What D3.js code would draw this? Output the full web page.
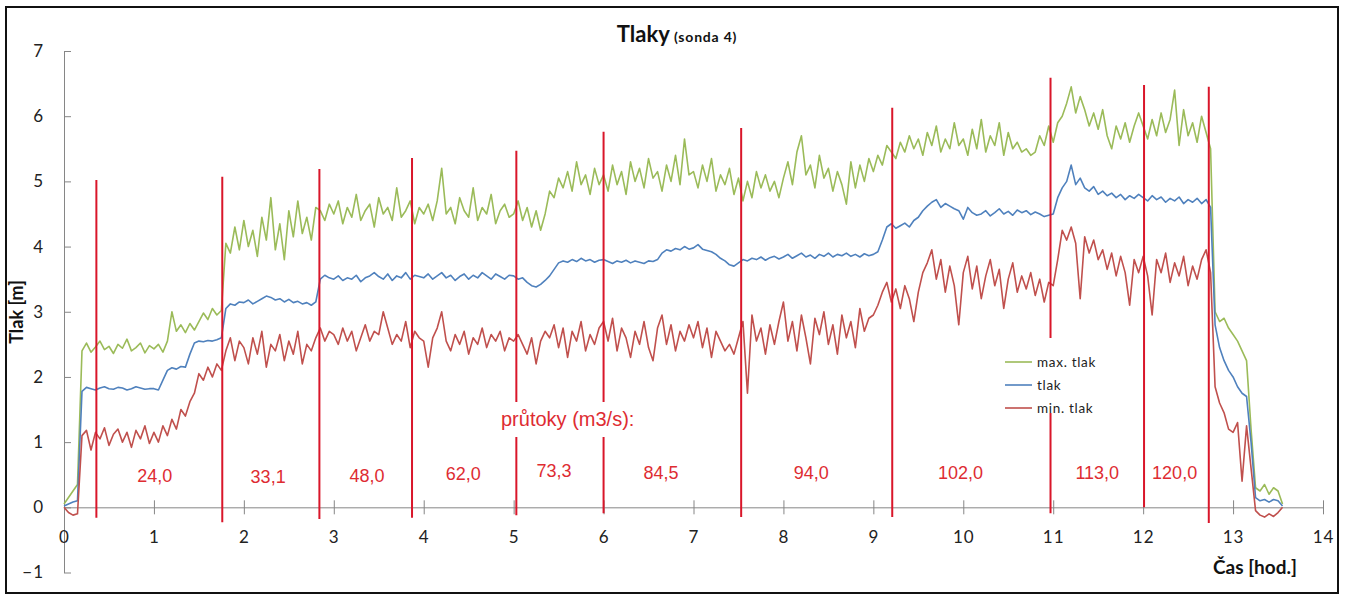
<html>
<head>
<meta charset="utf-8">
<script src="https://d3js.org/d3.v7.min.js"></script>
<style>
  body { margin: 0; background: #fff; }
  .axis path, .axis line { stroke: #868686; }
  .axis text { fill: #222; font-family: Lato, sans-serif; font-size: 17px; letter-spacing: 1px; }
</style>
</head>
<body>
<div id="chart"></div>
<script>
// time step of the readings [hod.]
var step = 0.05;

// max. tlak (green), one value every 0.05 h
var maxTlak = [
  0.05, 0.15, 0.25, 0.35, 2.40, 2.52, 2.38, 2.46, 2.55, 2.42, 2.47, 2.36, 2.50, 2.44, 2.58, 2.40, 2.45, 2.52, 2.37, 2.48,
  2.43, 2.50, 2.38, 2.55, 3.00, 2.70, 2.80, 2.68, 2.82, 2.72, 2.85, 2.98, 2.88, 3.05, 2.95, 3.02, 4.05, 3.90, 4.30, 3.95,
  4.40, 4.00, 4.25, 3.85, 4.45, 4.10, 4.75, 3.95, 4.35, 3.80, 4.55, 4.15, 4.70, 4.20, 4.45, 4.10, 4.60, 4.55, 4.40, 4.65,
  4.50, 4.70, 4.35, 4.60, 4.45, 4.80, 4.40, 4.55, 4.65, 4.30, 4.75, 4.50, 4.60, 4.40, 4.90, 4.45, 4.55, 4.70, 4.35, 4.60,
  4.50, 4.65, 4.40, 4.70, 5.20, 4.50, 4.60, 4.35, 4.75, 4.55, 4.45, 4.90, 4.40, 4.60, 4.50, 4.80, 4.35, 4.55, 4.65, 4.45,
  4.50, 4.70, 4.40, 4.60, 4.30, 4.55, 4.25, 4.50, 4.85, 4.75, 5.05, 4.90, 5.15, 4.85, 5.30, 4.95, 5.10, 4.80, 5.20, 4.95,
  5.10, 4.85, 5.25, 4.95, 5.15, 4.80, 5.30, 5.00, 5.20, 4.90, 5.35, 5.05, 5.15, 4.85, 5.25, 5.00, 5.40, 4.95, 5.65, 5.10,
  5.15, 4.90, 5.25, 5.00, 5.35, 4.85, 5.10, 4.95, 5.20, 4.80, 5.05, 4.70, 5.00, 4.75, 5.15, 4.90, 5.10, 4.85, 5.00, 4.75,
  5.05, 5.30, 4.95, 5.45, 5.70, 5.10, 5.25, 4.90, 5.40, 5.05, 5.20, 4.85, 5.15, 4.95, 4.65, 5.30, 4.90, 5.25, 5.00, 5.35,
  5.15, 5.40, 5.25, 5.55, 5.45, 5.35, 5.60, 5.45, 5.70, 5.50, 5.65, 5.40, 5.75, 5.55, 5.85, 5.45, 5.65, 5.50, 5.90, 5.55,
  5.65, 5.40, 5.80, 5.50, 5.95, 5.45, 5.70, 5.55, 5.90, 5.40, 5.75, 5.50, 5.60, 5.45, 5.50, 5.40, 5.45, 5.70, 5.55, 5.85,
  5.60, 5.90, 6.00, 6.20, 6.45, 6.05, 6.30, 6.10, 5.85, 6.05, 5.80, 6.10, 5.70, 5.50, 5.85, 5.65, 5.90, 5.60, 5.85, 6.05,
  5.85, 5.65, 5.95, 5.70, 6.05, 5.75, 5.95, 6.40, 5.55, 6.10, 5.70, 5.90, 5.60, 6.00, 5.75, 5.50, 3.00, 2.85, 2.90, 2.75,
  2.65, 2.55, 2.40, 2.25, 1.20, 0.30, 0.25, 0.35, 0.20, 0.30, 0.25, 0.05
];

// tlak (blue)
var tlak = [
  0.02, 0.05, 0.08, 0.10, 1.78, 1.84, 1.82, 1.80, 1.83, 1.85, 1.82, 1.81, 1.84, 1.83, 1.80, 1.82, 1.85, 1.83, 1.81, 1.82,
  1.82, 1.80, 1.95, 2.10, 2.14, 2.12, 2.16, 2.15, 2.35, 2.52, 2.55, 2.54, 2.56, 2.55, 2.57, 2.60, 3.05, 3.12, 3.10, 3.15,
  3.14, 3.18, 3.12, 3.16, 3.20, 3.24, 3.22, 3.18, 3.20, 3.15, 3.19, 3.14, 3.16, 3.12, 3.14, 3.10, 3.15, 3.50, 3.56, 3.52,
  3.50, 3.55, 3.48, 3.52, 3.50, 3.56, 3.46, 3.52, 3.55, 3.60, 3.54, 3.50, 3.58, 3.48, 3.55, 3.52, 3.60, 3.50, 3.56, 3.54,
  3.52, 3.58, 3.50, 3.55, 3.60, 3.52, 3.56, 3.48, 3.54, 3.58, 3.50, 3.56, 3.52, 3.60, 3.55, 3.50, 3.58, 3.54, 3.50, 3.56,
  3.55, 3.50, 3.52, 3.45, 3.40, 3.38, 3.42, 3.48, 3.55, 3.65, 3.75, 3.78, 3.76, 3.80, 3.77, 3.82, 3.78, 3.80, 3.76, 3.79,
  3.80, 3.77, 3.74, 3.78, 3.76, 3.79, 3.75, 3.78, 3.76, 3.74, 3.78, 3.77, 3.80, 3.90, 3.95, 3.93, 3.97, 3.95, 4.00, 3.96,
  3.98, 4.03, 3.96, 3.94, 3.92, 3.88, 3.82, 3.78, 3.72, 3.70, 3.75, 3.80, 3.78, 3.82, 3.80, 3.84, 3.79, 3.83, 3.85, 3.81,
  3.84, 3.88, 3.82, 3.86, 3.90, 3.84, 3.87, 3.82, 3.88, 3.85, 3.90, 3.84, 3.88, 3.86, 3.90, 3.85, 3.88, 3.84, 3.89, 3.86,
  3.88, 3.92, 4.10, 4.30, 4.35, 4.28, 4.32, 4.36, 4.30, 4.40, 4.45, 4.55, 4.62, 4.68, 4.72, 4.60, 4.66, 4.62, 4.58, 4.55,
  4.42, 4.60, 4.52, 4.48, 4.50, 4.55, 4.47, 4.52, 4.58, 4.50, 4.54, 4.48, 4.56, 4.52, 4.55, 4.49, 4.53, 4.50, 4.46, 4.48,
  4.50, 4.75, 4.90, 5.00, 5.25, 4.95, 5.05, 4.90, 4.85, 4.92, 4.80, 4.85, 4.78, 4.82, 4.75, 4.80, 4.72, 4.78, 4.74, 4.80,
  4.75, 4.70, 4.78, 4.72, 4.76, 4.68, 4.74, 4.70, 4.76, 4.66, 4.72, 4.68, 4.74, 4.66, 4.72, 4.60, 2.80, 2.45, 2.25, 2.10,
  2.00, 1.85, 1.75, 1.70, 1.00, 0.15, 0.10, 0.12, 0.08, 0.12, 0.10, 0.02
];

// min. tlak (red)
var minTlak = [
  0.00, -0.08, -0.12, -0.10, 1.10, 1.18, 0.88, 1.15, 1.05, 1.22, 0.95, 1.12, 1.20, 1.00, 1.15, 0.92, 1.18, 1.05, 1.25, 0.98,
  1.15, 1.00, 1.25, 1.10, 1.35, 1.20, 1.50, 1.40, 1.62, 1.75, 2.05, 1.95, 2.15, 2.00, 2.20, 2.10, 2.40, 2.60, 2.25, 2.55,
  2.45, 2.20, 2.60, 2.35, 2.70, 2.15, 2.50, 2.40, 2.65, 2.25, 2.55, 2.35, 2.70, 2.20, 2.50, 2.40, 2.60, 2.75, 2.55, 2.70,
  2.65, 2.50, 2.75, 2.55, 2.70, 2.40, 2.60, 2.80, 2.55, 2.70, 2.65, 3.00, 2.75, 2.50, 2.65, 2.55, 2.85, 2.45, 2.70, 2.60,
  2.55, 2.15, 2.60, 2.75, 3.00, 2.55, 2.40, 2.65, 2.50, 2.70, 2.35, 2.60, 2.50, 2.75, 2.45, 2.65, 2.55, 2.70, 2.40, 2.60,
  2.55, 2.65, 2.50, 2.35, 2.60, 2.20, 2.55, 2.70, 2.60, 2.80, 2.45, 2.75, 2.30, 2.70, 2.55, 2.85, 2.40, 2.65, 2.50, 2.75,
  2.85, 2.55, 2.90, 2.40, 2.75, 2.60, 2.30, 2.70, 2.50, 2.85, 2.45, 2.25, 2.75, 2.95, 2.50, 2.80, 2.40, 2.70, 2.55, 2.80,
  2.60, 2.85, 2.45, 2.75, 2.30, 2.70, 2.55, 2.40, 2.50, 2.35, 2.60, 2.85, 1.75, 2.95, 2.55, 2.75, 2.35, 2.80, 2.50, 2.85,
  3.15, 2.55, 2.85, 2.40, 2.95, 2.60, 2.20, 2.90, 2.65, 3.00, 2.50, 2.80, 2.35, 2.95, 2.60, 2.85, 2.45, 3.05, 2.70, 2.90,
  2.95, 3.10, 3.30, 3.45, 3.15, 3.35, 3.05, 3.40, 3.20, 2.85, 3.30, 3.60, 3.75, 3.95, 3.50, 3.80, 3.30, 3.70, 3.40, 2.80,
  3.60, 3.85, 3.35, 3.70, 3.20, 3.55, 3.80, 3.40, 3.65, 3.05, 3.50, 3.75, 3.30, 3.55, 3.35, 3.60, 3.25, 3.50, 3.15, 3.45,
  3.40, 3.80, 4.25, 4.10, 4.30, 4.05, 3.20, 4.15, 3.90, 4.10, 3.80, 3.95, 3.65, 3.90, 3.55, 3.85, 3.60, 3.10, 3.80, 3.60,
  3.85, 3.55, 2.95, 3.80, 3.60, 3.90, 3.45, 3.75, 3.55, 3.85, 3.40, 3.70, 3.50, 3.80, 3.95, 3.60, 1.85, 1.60, 1.45, 1.20,
  1.15, 1.30, 0.40, 1.25, 0.60, -0.05, -0.12, -0.15, -0.10, -0.14, -0.08, 0.00
];

// flow changes: time of the red marker, its top and bottom [m]
var flowTimes   = [0.36, 1.76, 2.84, 3.87, 5.03, 6.00, 7.53, 9.21, 10.97, 12.01, 12.73];
var flowTops    = [5.02, 5.07, 5.19, 5.36, 5.47, 5.76, 5.82, 6.13, 6.59, 6.48, 6.45];
var flowBottoms = [-0.16, -0.23, -0.18, -0.16, -0.12, -0.09, -0.15, -0.15, -0.09, 0.00, -0.24];

// flow values (m3/s) written between the markers
var flowLabels = ["24,0", "33,1", "48,0", "62,0", "73,3", "84,5", "94,0", "102,0", "113,0", "120,0"];
var flowLabelX = [1.01, 2.27, 3.37, 4.44, 5.45, 6.64, 8.31, 9.97, 11.49, 12.35];
var flowLabelY = [0.48, 0.47, 0.49, 0.52, 0.56, 0.53, 0.53, 0.53, 0.53, 0.53];

var xTicks = d3.range(0, 15);
var yTicks = d3.range(-1, 8);

var seriesNames  = ["max. tlak", "tlak", "min. tlak"];
var seriesColors = ["#9bbb59", "#4f81bd", "#c0504d"];
var markerColor = "#d9162a";
var labelColor = "#de2c32";

var width = 1346, height = 595;

var svg = d3.select("#chart")
  .append("svg")
    .attr("width", width)
    .attr("height", height);

// frame
svg.append("rect")
  .attr("x", 6).attr("y", 7)
  .attr("width", 1332).attr("height", 586)
  .style("fill", "white")
  .style("stroke", "#111")
  .style("stroke-width", 2);

var x = d3.scaleLinear().domain([0, 14]).range([64, 1323]);
var y = d3.scaleLinear().domain([-1, 7]).range([572.5, 51]);

// Y axis, ticks pointing inside
svg.append("g")
  .attr("class", "y axis")
  .attr("transform", "translate(" + x(0) + ",0)")
  .call(d3.axisLeft(y).tickValues(yTicks).tickSizeInner(-7).tickSizeOuter(0).tickPadding(20));

// X axis on the zero line, crossing ticks
var xAxis = svg.append("g")
  .attr("class", "x axis")
  .attr("transform", "translate(0," + y(0) + ")")
  .call(d3.axisBottom(x).tickValues(xTicks).tickSize(7).tickSizeOuter(0).tickPadding(17));
xAxis.selectAll(".tick line").attr("y1", -7);
xAxis.selectAll(".tick").filter(function(d) { return d === 0; }).select("line").remove();

var times = maxTlak.map(function(d, i) { return i * step; });

var line = d3.line()
  .x(function(d, i) { return x(times[i]); })
  .y(function(d) { return y(d); });

[maxTlak, tlak, minTlak].forEach(function(s, k) {
  svg.append("path")
    .datum(s)
    .attr("d", line)
    .style("fill", "none")
    .style("stroke", seriesColors[k])
    .style("stroke-width", 1.6)
    .style("stroke-linejoin", "round");
});

// red markers where the flow changes
svg.selectAll(".marker")
  .data(flowTimes)
  .enter()
  .append("line")
    .attr("class", "marker")
    .attr("x1", function(d) { return x(d); })
    .attr("x2", function(d) { return x(d); })
    .attr("y1", function(d, i) { return y(flowTops[i]); })
    .attr("y2", function(d, i) { return y(flowBottoms[i]); })
    .style("stroke", markerColor)
    .style("stroke-width", 2);

svg.selectAll(".flow")
  .data(flowLabels)
  .enter()
  .append("text")
    .attr("class", "flow")
    .attr("x", function(d, i) { return x(flowLabelX[i]); })
    .attr("y", function(d, i) { return y(flowLabelY[i]); })
    .attr("dy", "0.35em")
    .style("text-anchor", "middle")
    .style("font-family", "'Liberation Sans', Arial, sans-serif")
    .style("font-size", "18px")
    .style("fill", labelColor)
    .text(function(d) { return d; });

// "průtoky" caption on a white box
svg.append("rect")
  .attr("x", 498).attr("y", 402)
  .attr("width", 142).attr("height", 35)
  .style("fill", "white");
svg.append("text")
  .attr("x", 501).attr("y", 426)
  .style("font-family", "'Liberation Sans', Arial, sans-serif")
  .style("font-size", "20px")
  .style("fill", labelColor)
  .text("průtoky (m3/s):");

// legend
svg.append("rect")
  .attr("x", 995).attr("y", 338)
  .attr("width", 122).attr("height", 75)
  .style("fill", "white");
var legend = svg.selectAll(".legend")
  .data(seriesNames)
  .enter()
  .append("g")
    .attr("class", "legend")
    .attr("transform", function(d, i) { return "translate(1005," + [362, 385, 408][i] + ")"; });
legend.append("line")
  .attr("x1", 0).attr("x2", 27)
  .style("stroke", function(d, i) { return seriesColors[i]; })
  .style("stroke-width", 1.6);
legend.append("text")
  .attr("x", 32)
  .attr("dy", "0.35em")
  .style("font-family", "Lato, sans-serif")
  .style("font-size", "13.5px")
  .style("letter-spacing", "0.7px")
  .style("fill", "#222")
  .text(function(d) { return d; });

// titles
var title = svg.append("text")
  .attr("x", 677).attr("y", 42)
  .style("text-anchor", "middle")
  .style("font-family", "Lato, sans-serif")
  .style("font-weight", "bold")
  .style("fill", "#111");
title.append("tspan").style("font-size", "22px").text("Tlaky");
title.append("tspan").style("font-size", "14px").style("letter-spacing", "0.8px").text(" (sonda 4)");

svg.append("text")
  .attr("transform", "translate(23,312) rotate(-90)")
  .style("text-anchor", "middle")
  .style("font-family", "Lato, sans-serif")
  .style("font-weight", "bold")
  .style("font-size", "18px")
  .style("fill", "#111")
  .text("Tlak [m]");

svg.append("text")
  .attr("x", 1297).attr("y", 574)
  .style("text-anchor", "end")
  .style("font-family", "Lato, sans-serif")
  .style("font-weight", "bold")
  .style("font-size", "19px")
  .style("fill", "#111")
  .text("Čas [hod.]");
</script>
</body>
</html>
